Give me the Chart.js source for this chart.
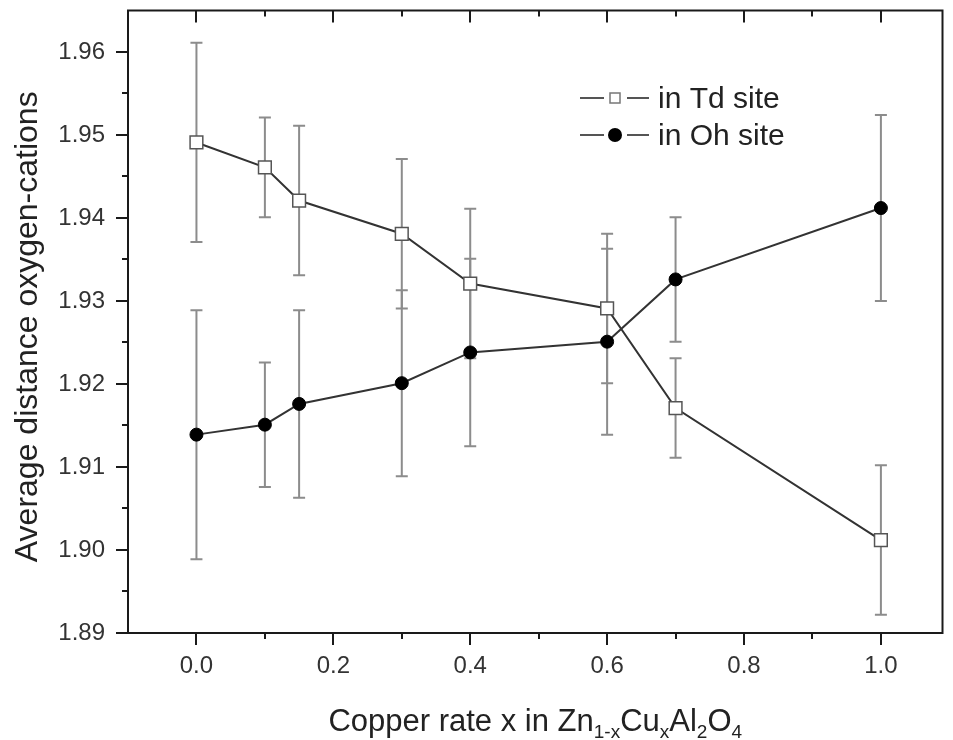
<!DOCTYPE html>
<html>
<head>
<meta charset="utf-8">
<script src="https://cdn.jsdelivr.net/npm/chart.js@4.4.1/dist/chart.umd.min.js"></script>
<style>
  html, body { margin: 0; padding: 0; background: #fff; }
  #wrap { width: 953px; height: 740px; position: relative; }
</style>
</head>
<body>
<div id="wrap"><canvas id="chart"></canvas></div>
<script>
// data
const copperRate = [0, 0.1, 0.15, 0.3, 0.4, 0.6, 0.7, 1.0];
const tdDistance = [1.9491, 1.9461, 1.9421, 1.9381, 1.9321, 1.9291, 1.9171, 1.9012];
const tdError    = [0.012, 0.006, 0.009, 0.009, 0.009, 0.009, 0.006, 0.009];
const ohDistance = [1.9139, 1.9151, 1.9176, 1.9201, 1.9238, 1.9251, 1.9326, 1.9412];
const ohError    = [0.015, 0.0075, 0.0113, 0.0112, 0.0113, 0.0112, 0.0075, 0.0112];

const xTicks = [0, 0.2, 0.4, 0.6, 0.8, 1.0];
const xMinorTicks = [0.1, 0.3, 0.5, 0.7, 0.9];
const yTicks = [1.89, 1.90, 1.91, 1.92, 1.93, 1.94, 1.95, 1.96];
const yMinorTicks = [1.895, 1.905, 1.915, 1.925, 1.935, 1.945, 1.955];

const seriesNames = ["in Td site", "in Oh site"];

const FONT = "'Liberation Sans', Arial, sans-serif";
const LINE_COLOR = "#333";
const ERR_COLOR = "#8c8c8c";

const toPoints = (ys) => copperRate.map((x, i) => ({ x: x, y: ys[i] }));

// =========================
// ERROR BARS
// =========================
const errorBars = {
  id: "errorBars",
  beforeDatasetsDraw(chart) {
    const ctx = chart.ctx;
    const xs = chart.scales.x, ys = chart.scales.y;
    const sets = [[tdDistance, tdError], [ohDistance, ohError]];
    ctx.save();
    ctx.strokeStyle = ERR_COLOR;
    ctx.lineWidth = 2;
    sets.forEach(([vals, errs]) => {
      vals.forEach((v, i) => {
        const px = xs.getPixelForValue(copperRate[i]);
        const top = ys.getPixelForValue(v + errs[i]);
        const bot = ys.getPixelForValue(v - errs[i]);
        ctx.beginPath();
        ctx.moveTo(px, top); ctx.lineTo(px, bot);
        ctx.moveTo(px - 6, top); ctx.lineTo(px + 6, top);
        ctx.moveTo(px - 6, bot); ctx.lineTo(px + 6, bot);
        ctx.stroke();
      });
    });
    ctx.restore();
  }
};

// =========================
// FRAME, TICKS, TITLES, LEGEND
// =========================
const frame = {
  id: "frame",
  afterDraw(chart) {
    const ctx = chart.ctx;
    const a = chart.chartArea;
    const xs = chart.scales.x, ys = chart.scales.y;
    ctx.save();
    ctx.strokeStyle = "#1a1a1a";
    ctx.lineWidth = 2;
    ctx.strokeRect(a.left, a.top, a.right - a.left, a.bottom - a.top);

    ctx.beginPath();
    xTicks.forEach(v => {
      const px = Math.round(xs.getPixelForValue(v));
      ctx.moveTo(px, a.bottom); ctx.lineTo(px, a.bottom + 12);
      ctx.moveTo(px, a.top); ctx.lineTo(px, a.top + 12);
    });
    xMinorTicks.forEach(v => {
      const px = Math.round(xs.getPixelForValue(v));
      ctx.moveTo(px, a.bottom); ctx.lineTo(px, a.bottom + 6);
      ctx.moveTo(px, a.top); ctx.lineTo(px, a.top + 6);
    });
    yTicks.forEach(v => {
      const py = Math.round(ys.getPixelForValue(v));
      ctx.moveTo(a.left, py); ctx.lineTo(a.left - 12, py);
    });
    yMinorTicks.forEach(v => {
      const py = Math.round(ys.getPixelForValue(v));
      ctx.moveTo(a.left, py); ctx.lineTo(a.left - 6, py);
    });
    ctx.stroke();

    // y title
    ctx.fillStyle = "#222";
    ctx.font = "32px " + FONT;
    ctx.save();
    ctx.translate(37, (a.top + a.bottom) / 2 + 5);
    ctx.rotate(-Math.PI / 2);
    ctx.textAlign = "center";
    ctx.textBaseline = "alphabetic";
    ctx.fillText("Average distance oxygen-cations", 0, 0);
    ctx.restore();

    // x title with subscripts
    const parts = [
      ["Copper rate x in Zn", false], ["1-x", true], ["Cu", false],
      ["x", true], ["Al", false], ["2", true], ["O", false], ["4", true]
    ];
    const big = "31px " + FONT, small = "19px " + FONT;
    let total = 0;
    parts.forEach(([t, sub]) => { ctx.font = sub ? small : big; total += ctx.measureText(t).width; });
    let x = (a.left + a.right) / 2 - total / 2;
    const base = 731;
    ctx.textAlign = "left";
    ctx.textBaseline = "alphabetic";
    parts.forEach(([t, sub]) => {
      ctx.font = sub ? small : big;
      ctx.fillText(t, x, sub ? base + 7 : base);
      x += ctx.measureText(t).width;
    });

    // legend
    const rows = [
      { y: 98, name: seriesNames[0], square: true },
      { y: 135, name: seriesNames[1], square: false }
    ];
    rows.forEach(r => {
      ctx.strokeStyle = "#555";
      ctx.lineWidth = 2;
      ctx.beginPath();
      ctx.moveTo(580, r.y); ctx.lineTo(604, r.y);
      ctx.moveTo(627, r.y); ctx.lineTo(649, r.y);
      ctx.stroke();
      if (r.square) {
        ctx.fillStyle = "#fff";
        ctx.strokeStyle = "#777";
        ctx.lineWidth = 1.5;
        ctx.fillRect(610, r.y - 5, 10, 10);
        ctx.strokeRect(610, r.y - 5, 10, 10);
      } else {
        ctx.fillStyle = "#000";
        ctx.beginPath();
        ctx.arc(615, r.y, 7, 0, Math.PI * 2);
        ctx.fill();
      }
      ctx.fillStyle = "#222";
      ctx.font = "30px " + FONT;
      ctx.textBaseline = "alphabetic";
      ctx.fillText(r.name, 658, r.y + 10);
    });
    ctx.restore();
  }
};

new Chart(document.getElementById("chart"), {
  type: "line",
  data: {
    datasets: [
      {
        label: seriesNames[0],
        data: toPoints(tdDistance),
        borderColor: LINE_COLOR,
        borderWidth: 2,
        pointStyle: "rect",
        pointRadius: 9,
        pointBackgroundColor: "#fff",
        pointBorderColor: "#555",
        pointBorderWidth: 1.5,
        tension: 0
      },
      {
        label: seriesNames[1],
        data: toPoints(ohDistance),
        borderColor: LINE_COLOR,
        borderWidth: 2,
        pointStyle: "circle",
        pointRadius: 6.5,
        pointBackgroundColor: "#000",
        pointBorderColor: "#000",
        pointBorderWidth: 1,
        tension: 0
      }
    ]
  },
  options: {
    responsive: true,
    maintainAspectRatio: false,
    animation: false,
    layout: { padding: { top: 10, right: 8, left: 0, bottom: 0 } },
    plugins: {
      legend: { display: false },
      tooltip: { enabled: false }
    },
    scales: {
      x: {
        type: "linear",
        min: -0.1,
        max: 1.09,
        grid: { display: false, drawTicks: false },
        border: { display: false },
        afterBuildTicks: s => { s.ticks = xTicks.map(v => ({ value: v })); },
        afterFit: s => { s.height = 107; s.paddingLeft = 0; s.paddingRight = 0; },
        ticks: {
          callback: v => v.toFixed(1),
          font: { family: FONT, size: 24 },
          color: "#333",
          padding: 19,
          maxRotation: 0
        }
      },
      y: {
        type: "linear",
        min: 1.89,
        max: 1.965,
        grid: { display: false, drawTicks: false },
        border: { display: false },
        afterBuildTicks: s => { s.ticks = yTicks.map(v => ({ value: v })); },
        afterFit: s => { s.width = 128; s.paddingTop = 0; s.paddingBottom = 0; },
        ticks: {
          callback: v => v.toFixed(2),
          font: { family: FONT, size: 24 },
          color: "#333",
          padding: 23
        }
      }
    }
  },
  plugins: [errorBars, frame]
});
</script>
</body>
</html>
